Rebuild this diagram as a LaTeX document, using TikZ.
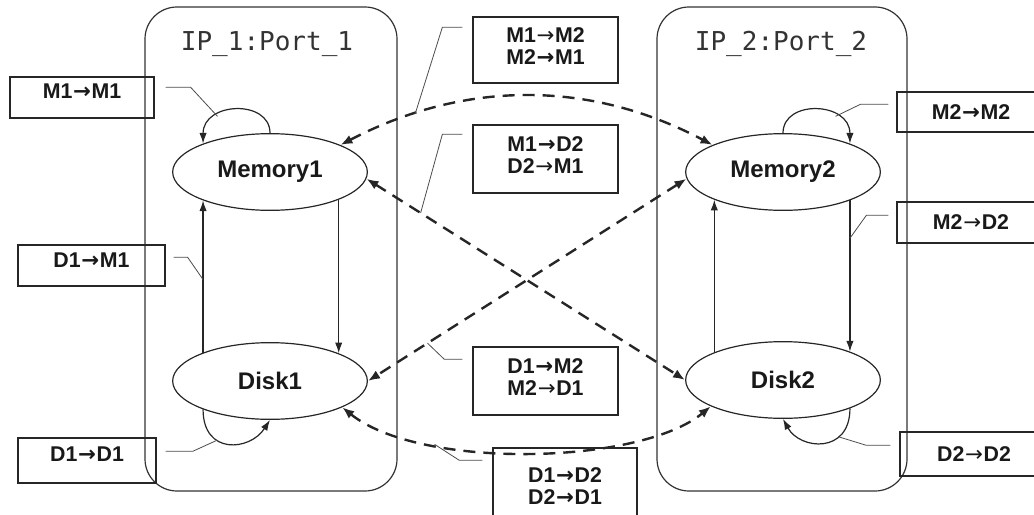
\documentclass[tikz,border=0pt]{standalone}
\usepackage{fontspec}
\setmainfont{Liberation Sans}
\newfontfamily\portfont{DejaVu Sans Mono}
\newfontfamily\arrfont{DejaVu Sans}
\usetikzlibrary{shapes.geometric,arrows.meta,calc}
\newcommand{\tto}{{\arrfont\kern0.5pt→\kern0.5pt}}
\newcommand{\thinto}{{\arrfont\mdseries\kern0.5pt→\kern0.5pt}}

\begin{document}
\begin{tikzpicture}[x=0.75pt,y=-0.75pt,
  port/.style={draw=black!80, line width=0.9pt, rounded corners=24pt},
  portname/.style={anchor=base, text=black!80, font=\portfont\fontsize{19.5}{22}\selectfont},
  state/.style={draw=black!85, ellipse, line width=0.9pt, inner sep=0pt,
    minimum width=146pt, minimum height=57.5pt,
    font=\fontsize{18}{20}\selectfont\bfseries, text=black!90},
  trans/.style={draw=black!85, line width=1pt, inner sep=0pt, align=center,
    font=\fontsize{16}{16.5}\selectfont\bfseries, text=black!90},
  move/.style={-{Latex[length=8pt,width=5.5pt]}, line width=0.9pt, black!85},
  xfer/.style={{Latex[length=9pt,width=7pt]}-{Latex[length=9pt,width=7pt]},
    line width=1.8pt, dash pattern=on 9pt off 6pt, black!85},
  hook/.style={line width=0.6pt, black!70}]
\useasboundingbox (0,0) rectangle (1034,514);
%%%%%%%%%

%%%ports
\draw[port] (145,7) rectangle (397,491);
\draw[port] (657,7) rectangle (907,491);
\node[portname] (ip1) at (267,50) {IP\_1:Port\_1};
\node[portname] (ip2) at (781,50) {IP\_2:Port\_2};

%%%states
\node[state] (Memory1) at (270,172) {Memory1};
\node[state] (Disk1) at (270,381) {Disk1};
\node[state] (Memory2) at (783,172) {Memory2};
\node[state] (Disk2) at (783,380) {Disk2};

%%%%%%%%%inside one port
\draw[move] (Disk1.157) -- coordinate[pos=0.48] (d1m1) (Memory1.203);
\draw[move] (Memory1.-22) -- (Disk1.22);
\draw[move] (Disk2.158) -- (Memory2.202);
\draw[move] (Memory2.-23) -- coordinate[pos=0.25] (m2d2) (Disk2.23);
%loops
\draw[move] (Memory1.north) .. controls +(0,-34) and +(0,-42) .. (Memory1.157) coordinate[pos=0.7] (m1m1);
\draw[move] (Memory2.north) .. controls +(0,-34) and +(0,-42) .. (Memory2.23) coordinate[pos=0.7] (m2m2);
\draw[move] (Disk1.203) .. controls +(0,46) and +(-20,31) .. (Disk1.south) coordinate[pos=0.35] (d1d1);
\draw[move] (Disk2.337) .. controls +(0,46) and +(17,31) .. (Disk2.south) coordinate[pos=0.3] (d2d2);

%%%%%%%%%between the ports
\draw[xfer] (Memory1.21) .. controls (465,80) and (590,80) .. (Memory2.159) coordinate[pos=0.2] (mm);
\draw[xfer] (Memory1.-4) -- coordinate[pos=0.17] (md) (Disk2.180);
\draw[xfer] (Memory2.184) -- coordinate[pos=0.813] (dm) (Disk1.0);
\draw[xfer] (Disk1.-20) .. controls (420,470) and (640,465) .. (Disk2.200) coordinate[pos=0.28] (dd);

%%%%%%%%%transition boxes
\node[trans, minimum width=108pt, minimum height=30.75pt, text depth=9pt] (tM1M1) at (82,97.5) {M1\tto M1};
\node[trans, minimum width=110.25pt, minimum height=30.75pt, text depth=8pt] (tD1M1) at (91.5,265.5) {D1\tto M1};
\node[trans, minimum width=103.5pt, minimum height=33.75pt, text depth=9pt] (tD1D1) at (87,460.5) {D1\tto D1};
\node[trans, minimum width=108.75pt, minimum height=49.5pt, text depth=6pt] (tM1M2) at (545.5,50) {M1\thinto M2\\M2\tto M1};
\node[trans, minimum width=108.75pt, minimum height=51pt, text depth=6pt] (tM1D2) at (545.5,159) {M1\tto D2\\D2\thinto M1};
\node[trans, minimum width=108.75pt, minimum height=51pt, text depth=6pt] (tD1M2) at (545.5,381) {D1\tto M2\\M2\thinto D1};
\node[trans, minimum width=108pt, minimum height=57pt] (tD1D2) at (565,486) {D1\tto D2\\D2\tto D1};
\node[trans, minimum width=111pt, minimum height=30pt] (tM2M2) at (971,112) {M2\tto M2};
\node[trans, minimum width=111pt, minimum height=30.75pt] (tM2D2) at (971,222.5) {M2\thinto D2};
\node[trans, minimum width=111pt, minimum height=33pt] (tD2D2) at (974,454) {D2\thinto D2};

%hooks
\draw[hook] ($(tM1M1.north east)+(11,11)$) -- ++(25,0) -- (m1m1);
\draw[hook] ($(tD1M1.north east)+(8,13)$) -- ++(14,0) -- (d1m1);
\draw[hook] ($(tD1D1.north east)+(9,14)$) -- ++(27,0) -- (d1d1);
\draw[hook] ($(tM1M2.north west)+(-10,11)$) -- ++(-20,0) -- (mm);
\draw[hook] ($(tM1D2.north west)+(-10,10)$) -- ++(-20,0) -- (md);
\draw[hook] ($(tD1M2.north west)+(-10,13)$) -- ++(-18,0) -- (dm);
\draw[hook] ($(tD1D2.north west)+(-10,13)$) -- ++(-23,0) -- (dd);
\draw[hook] ($(tM2M2.north west)+(-8,13)$) -- ++(-28,0) -- (m2m2);
\draw[hook] ($(tM2D2.north west)+(-8,14)$) -- ++(-22,0) -- (m2d2);
\draw[hook] ($(tD2D2.north west)+(-9,14)$) -- ++(-24,0) -- (d2d2);

\end{tikzpicture}
\end{document}
